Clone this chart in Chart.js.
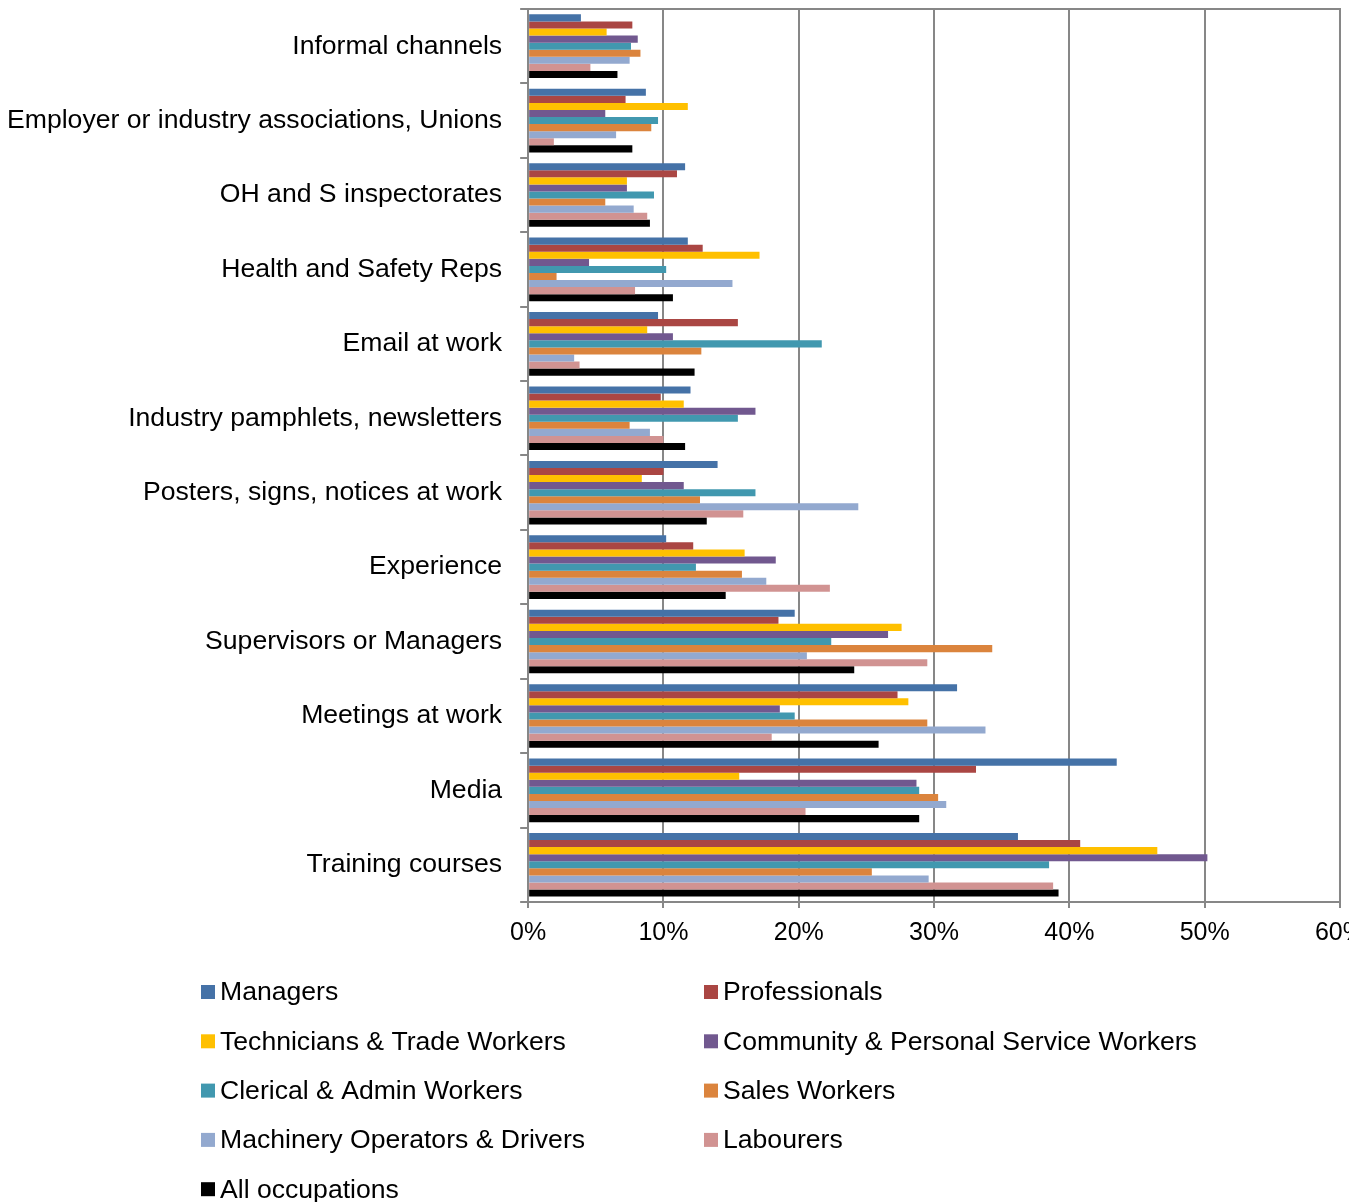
<!DOCTYPE html>
<html>
<head>
<meta charset="utf-8">
<script src="https://cdn.jsdelivr.net/npm/chart.js@4"></script>
<style>
  html, body { margin: 0; padding: 0; background: #fff; overflow: hidden; }
  #wrap { width: 1349px; height: 1202px; overflow: hidden; position: relative; }
  canvas { display: block; position: absolute; left: -17px; top: -25px; }
</style>
</head>
<body>
<div id="wrap"><canvas id="myChart" width="1392" height="1227"></canvas></div>
<script>
// channels, top to bottom
const channels = [
  'Informal channels',
  'Employer or industry associations, Unions',
  'OH and S inspectorates',
  'Health and Safety Reps',
  'Email at work',
  'Industry pamphlets, newsletters',
  'Posters, signs, notices at work',
  'Experience',
  'Supervisors or Managers',
  'Meetings at work',
  'Media',
  'Training courses'
];

// % of workers per occupation group
const managers      = [3.9, 8.7, 11.6, 11.8, 9.6, 12.0, 14.0, 10.2, 19.7, 31.7, 43.5, 36.2];
const professionals = [7.7, 7.2, 11.0, 12.9, 15.5, 9.8, 10.0, 12.2, 18.5, 27.3, 33.1, 40.8];
const technicians   = [5.8, 11.8, 7.3, 17.1, 8.8, 11.5, 8.4, 16.0, 27.6, 28.1, 15.6, 46.5];
const community     = [8.1, 5.7, 7.3, 4.5, 10.7, 16.8, 11.5, 18.3, 26.6, 18.6, 28.7, 50.2];
const clerical      = [7.6, 9.6, 9.3, 10.2, 21.7, 15.5, 16.8, 12.4, 22.4, 19.7, 28.9, 38.5];
const sales         = [8.3, 9.1, 5.7, 2.1, 12.8, 7.5, 12.7, 15.8, 34.3, 29.5, 30.3, 25.4];
const machinery     = [7.5, 6.5, 7.8, 15.1, 3.4, 9.0, 24.4, 17.6, 20.6, 33.8, 30.9, 29.6];
const labourers     = [4.6, 1.9, 8.8, 7.9, 3.8, 10.0, 15.9, 22.3, 29.5, 18.0, 20.5, 38.8];
const allOccs       = [6.6, 7.7, 9.0, 10.7, 12.3, 11.6, 13.2, 14.6, 24.1, 25.9, 28.9, 39.2];

const seriesNames = [
  'Managers', 'Professionals', 'Technicians & Trade Workers',
  'Community & Personal Service Workers', 'Clerical & Admin Workers',
  'Sales Workers', 'Machinery Operators & Drivers', 'Labourers', 'All occupations'
];
const seriesData = [managers, professionals, technicians, community, clerical,
                    sales, machinery, labourers, allOccs];
const colors = ['#4572A7', '#AA4643', '#FFC000', '#71588F', '#4198AF',
                '#DB843D', '#93A9CF', '#D19392', '#000000'];

const FONT = '"Liberation Sans", Arial, sans-serif';
const GRID = '#878787';
const SHIFT_X = 17, SHIFT_Y = 25; // canvas is pulled up/left by this much

// plot frame top + right edge
const frame = {
  id: 'frame',
  afterDatasetsDraw(chart) {
    const a = chart.chartArea, ctx = chart.ctx;
    ctx.save();
    ctx.strokeStyle = GRID;
    ctx.lineWidth = 2;
    ctx.beginPath();
    ctx.moveTo(a.left, a.top);
    ctx.lineTo(a.right, a.top);
    ctx.lineTo(a.right, a.bottom);
    ctx.stroke();
    ctx.restore();
  }
};

// two-column legend below the axis
const gridLegend = {
  id: 'gridLegend',
  afterDraw(chart) {
    const ctx = chart.ctx;
    const cols = [201 + SHIFT_X, 704 + SHIFT_X];
    const top = 992 + SHIFT_Y, step = 49.3;
    ctx.save();
    ctx.font = '26.6px ' + FONT;
    ctx.textBaseline = 'middle';
    chart.data.datasets.forEach((ds, i) => {
      const x = cols[i % 2];
      const y = top + Math.floor(i / 2) * step;
      ctx.fillStyle = ds.backgroundColor;
      ctx.fillRect(x, y - 7, 14, 14);
      ctx.fillStyle = '#000';
      ctx.fillText(ds.label, x + 19, y + 1);
    });
    ctx.restore();
  }
};

new Chart('myChart', {
  type: 'bar',
  data: {
    labels: channels,
    datasets: seriesNames.map((name, i) => ({
      label: name,
      data: seriesData[i],
      backgroundColor: colors[i],
      borderWidth: 0,
      barPercentage: 1.0,
      categoryPercentage: 0.855
    }))
  },
  options: {
    indexAxis: 'y',
    responsive: false,
    animation: false,
    layout: { padding: { top: 8, left: 6, right: 0, bottom: 244 } },
    plugins: {
      legend: { display: false },
      tooltip: { enabled: false }
    },
    scales: {
      x: {
        min: 0,
        max: 60,
        ticks: {
          stepSize: 10,
          callback: v => v + '%',
          color: '#000',
          padding: 10,
          maxRotation: 0,
          font: { family: FONT, size: 25 }
        },
        grid: { color: GRID, lineWidth: 2, tickLength: 6 },
        border: { color: GRID, width: 2 }
      },
      y: {
        ticks: {
          color: '#000',
          padding: 18,
          font: { family: FONT, size: 26.6 }
        },
        grid: { drawOnChartArea: false, color: GRID, lineWidth: 2, tickLength: 8 },
        border: { color: GRID, width: 2 }
      }
    }
  },
  plugins: [frame, gridLegend]
});
</script>
</body>
</html>
